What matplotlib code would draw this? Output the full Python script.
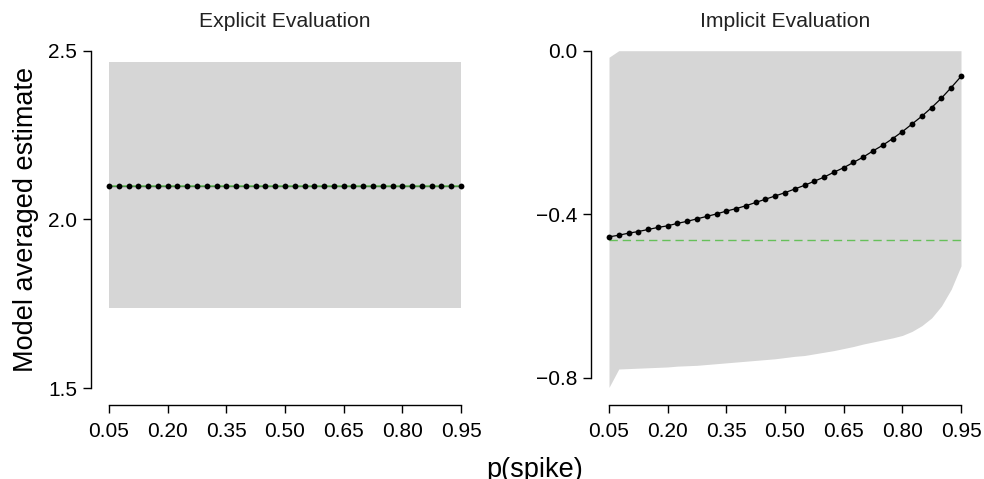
import numpy as np
import matplotlib
matplotlib.use('Agg')
import matplotlib.pyplot as plt

plt.rcParams['font.family'] = ['Liberation Sans', 'DejaVu Sans']

# Значения p(spike)
p_spike = [0.050, 0.075, 0.100, 0.125, 0.150, 0.175, 0.200, 0.225, 0.250, 0.275,
           0.300, 0.325, 0.350, 0.375, 0.400, 0.425, 0.450, 0.475, 0.500, 0.525,
           0.550, 0.575, 0.600, 0.625, 0.650, 0.675, 0.700, 0.725, 0.750, 0.775,
           0.800, 0.825, 0.850, 0.875, 0.900, 0.925, 0.950]

# Explicit Evaluation
explicit_est = [2.10, 2.10, 2.10, 2.10, 2.10, 2.10, 2.10, 2.10, 2.10, 2.10,
                2.10, 2.10, 2.10, 2.10, 2.10, 2.10, 2.10, 2.10, 2.10, 2.10,
                2.10, 2.10, 2.10, 2.10, 2.10, 2.10, 2.10, 2.10, 2.10, 2.10,
                2.10, 2.10, 2.10, 2.10, 2.10, 2.10, 2.10]
explicit_lower = 1.738
explicit_upper = 2.467
explicit_ref = 2.10

# Implicit Evaluation
implicit_est = [-0.455, -0.451, -0.446, -0.442, -0.437, -0.432, -0.428, -0.422, -0.417, -0.411,
                -0.405, -0.399, -0.392, -0.386, -0.379, -0.371, -0.363, -0.355, -0.347, -0.338,
                -0.329, -0.319, -0.309, -0.297, -0.286, -0.273, -0.260, -0.245, -0.231, -0.215,
                -0.198, -0.179, -0.160, -0.139, -0.116, -0.090, -0.063]
implicit_lower = [-0.823, -0.778, -0.777, -0.776, -0.775, -0.774, -0.773, -0.771, -0.770, -0.769,
                  -0.767, -0.765, -0.763, -0.761, -0.759, -0.757, -0.755, -0.753, -0.750, -0.747,
                  -0.745, -0.741, -0.737, -0.733, -0.728, -0.723, -0.717, -0.712, -0.707, -0.702,
                  -0.696, -0.686, -0.672, -0.653, -0.624, -0.583, -0.526]
implicit_upper = [-0.016, 0.0, 0.0, 0.0, 0.0, 0.0, 0.0, 0.0, 0.0, 0.0,
                  0.0, 0.0, 0.0, 0.0, 0.0, 0.0, 0.0, 0.0, 0.0, 0.0,
                  0.0, 0.0, 0.0, 0.0, 0.0, 0.0, 0.0, 0.0, 0.0, 0.0,
                  0.0, 0.0, 0.0, 0.0, 0.0, 0.0, 0.0]
implicit_ref = -0.463

xticks = [0.05, 0.20, 0.35, 0.50, 0.65, 0.80, 0.95]
xtick_labels = ['0.05', '0.20', '0.35', '0.50', '0.65', '0.80', '0.95']
explicit_yticks = [1.5, 2.0, 2.5]
explicit_ylabels = ['1.5', '2.0', '2.5']
implicit_yticks = [-0.8, -0.4, 0.0]
implicit_ylabels = ['\u22120.8', '\u22120.4', '0.0']

W, H = 984, 479
fig = plt.figure(figsize=(W / 100, H / 100), dpi=100)

band_color = '#d6d6d6'
green = '#66c05a'


def px_axes(left, top, right, bottom):
    return fig.add_axes([left / W, 1 - bottom / H, (right - left) / W, (bottom - top) / H])


def style_axes(ax, yticks, ylabels):
    ax.set_xticks(xticks)
    ax.set_xticklabels(xtick_labels)
    ax.set_yticks(yticks)
    ax.set_yticklabels(ylabels)
    for s in ['top', 'right']:
        ax.spines[s].set_visible(False)
    ax.spines['left'].set_bounds(yticks[0], yticks[-1])
    ax.spines['bottom'].set_bounds(xticks[0], xticks[-1])
    for s in ['left', 'bottom']:
        ax.spines[s].set_linewidth(1.0)
    ax.tick_params(axis='both', length=6, width=1.0, labelsize=15, pad=4, colors='black')
    ax.tick_params(axis='x', pad=6)
    ax.patch.set_alpha(0)


xpx = 0.9 / 352.0  # единиц на пиксель по x
xlim = (0.05 - 18 * xpx, 0.95 + 18 * xpx)

# Левая панель
ax1 = px_axes(91, 33.7, 479, 405)
ax1.set_xlim(*xlim)
ax1.set_ylim(1.5 - 17 / 337.3, 2.5 + 17 / 337.3)
ax1.fill_between(p_spike, explicit_lower, explicit_upper, color=band_color, lw=0)
ax1.plot(p_spike, explicit_est, color='black', lw=0.9)
ax1.plot([p_spike[0], p_spike[-1]], [explicit_ref, explicit_ref], color=green, lw=1.1)
ax1.plot(p_spike, explicit_est, 'o', color='black', ms=4.2, mew=0)
style_axes(ax1, explicit_yticks, explicit_ylabels)

# Правая панель
ax2 = px_axes(591, 33.7, 979, 405)
ax2.set_xlim(*xlim)
ax2.set_ylim(-0.8 - 27 / 409.1, 0.0 + 17 / 409.1)
ax2.fill_between(p_spike, implicit_lower, implicit_upper, color=band_color, lw=0)
ax2.plot(p_spike, implicit_est, color='black', lw=0.9)
ax2.plot([p_spike[0], p_spike[-1]], [implicit_ref, implicit_ref], color=green, lw=1.0,
         dashes=(6, 3.5))
ax2.plot(p_spike, implicit_est, 'o', color='black', ms=4.2, mew=0)
style_axes(ax2, implicit_yticks, implicit_ylabels)

# Подписи
fig.text(284.8 / W, 1 - 27.3 / H, 'Explicit Evaluation', ha='center', va='baseline',
         fontsize=15.2, color='#222222')
fig.text(784.7 / W, 1 - 27.3 / H, 'Implicit Evaluation', ha='center', va='baseline',
         fontsize=15.2, color='#222222')
fig.text(26 / W, 1 - 219 / H, 'Model averaged estimate', rotation=90, ha='center',
         va='center', fontsize=19.5)
fig.text(535 / W, 1 - 477 / H, 'p(spike)', ha='center', va='baseline', fontsize=19.5)

fig.savefig('out.png', dpi=100)
